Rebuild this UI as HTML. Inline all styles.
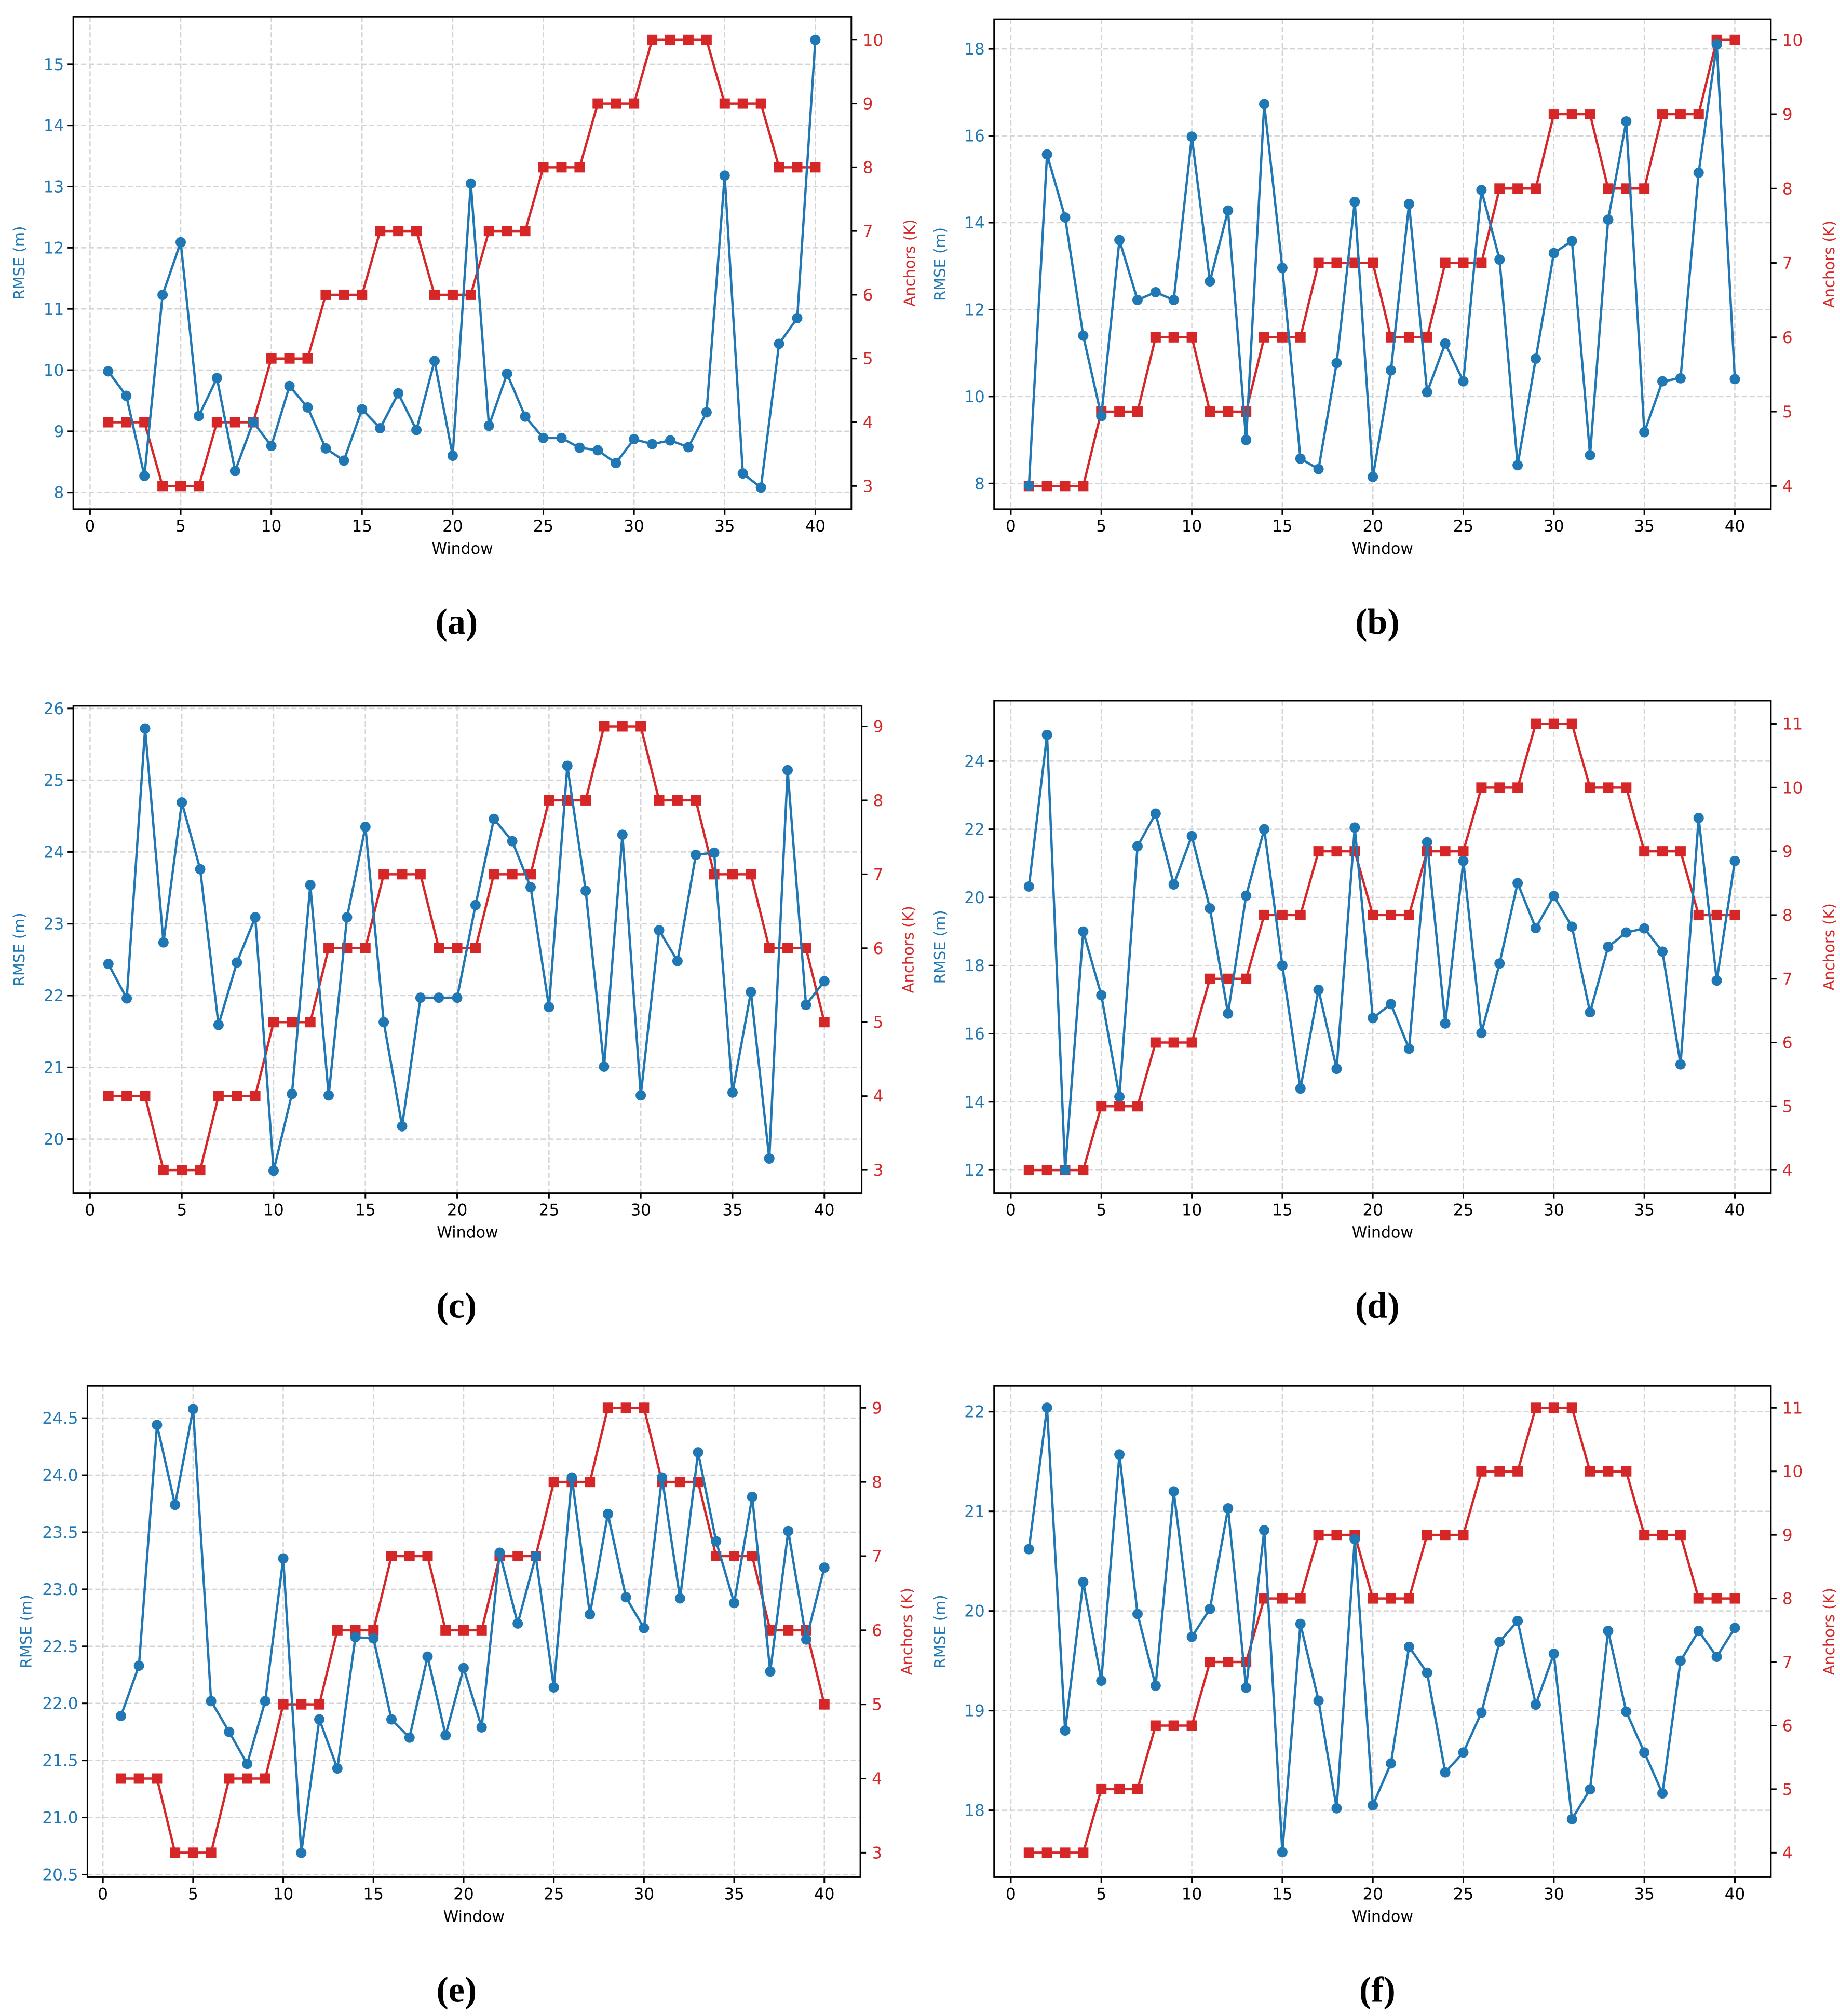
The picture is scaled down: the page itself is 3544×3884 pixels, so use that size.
<!DOCTYPE html>
<html><head><meta charset="utf-8"><style>
html,body{margin:0;padding:0;background:#fff}
svg{display:block}
text{font-family:"DejaVu Sans","Liberation Sans",sans-serif}
</style></head><body>
<svg id="fig" xmlns="http://www.w3.org/2000/svg" width="3544" height="3884" viewBox="0 0 3544 3884"></svg>
<script>
const windows = Array.from({length:40},(_,i)=>i+1);
const rmseA = [9.98,9.58,8.27,11.23,12.09,9.25,9.87,8.35,9.15,8.76,9.74,9.39,8.72,8.52,9.36,9.05,9.62,9.02,10.15,8.6,13.05,9.09,9.94,9.24,8.89,8.89,8.73,8.69,8.48,8.87,8.79,8.85,8.74,9.31,13.18,8.31,8.08,10.43,10.85,15.4];
const anchA = [4,4,4,3,3,3,4,4,4,5,5,5,6,6,6,7,7,7,6,6,6,7,7,7,8,8,8,9,9,9,10,10,10,10,9,9,9,8,8,8];
const rmseB = [7.95,15.57,14.12,11.4,9.55,13.6,12.22,12.4,12.22,15.98,12.65,14.28,9.0,16.73,12.96,8.57,8.33,10.77,14.48,8.15,10.6,14.43,10.1,11.22,10.35,14.75,13.15,8.42,10.87,13.3,13.58,8.65,14.07,16.33,9.18,10.35,10.42,15.15,18.1,10.4];
const anchB = [4,4,4,4,5,5,5,6,6,6,5,5,5,6,6,6,7,7,7,7,6,6,6,7,7,7,8,8,8,9,9,9,8,8,8,9,9,9,10,10];
const rmseC = [22.44,21.96,25.72,22.74,24.69,23.76,21.59,22.46,23.09,19.56,20.63,23.54,20.61,23.09,24.35,21.63,20.18,21.97,21.97,21.97,23.26,24.46,24.15,23.51,21.84,25.2,23.46,21.01,24.24,20.61,22.91,22.48,23.96,23.99,20.65,22.05,19.73,25.14,21.87,22.2];
const anchC = [4,4,4,3,3,3,4,4,4,5,5,5,6,6,6,7,7,7,6,6,6,7,7,7,8,8,8,9,9,9,8,8,8,7,7,7,6,6,6,5];
const rmseD = [20.32,24.77,12.0,19.0,17.13,14.15,21.5,22.46,20.38,21.8,19.68,16.59,20.05,22.0,18.0,14.39,17.29,14.97,22.05,16.46,16.87,15.56,21.62,16.3,21.07,16.02,18.06,20.42,19.1,20.04,19.14,16.63,18.55,18.97,19.09,18.41,15.1,22.33,17.56,21.07];
const anchD = [4,4,4,4,5,5,5,6,6,6,7,7,7,8,8,8,9,9,9,8,8,8,9,9,9,10,10,10,11,11,11,10,10,10,9,9,9,8,8,8];
const rmseE = [21.89,22.33,24.44,23.74,24.58,22.02,21.75,21.47,22.02,23.27,20.69,21.86,21.43,22.58,22.57,21.86,21.7,22.41,21.72,22.31,21.79,23.32,22.7,23.29,22.14,23.98,22.78,23.66,22.93,22.66,23.98,22.92,24.2,23.42,22.88,23.81,22.28,23.51,22.56,23.19];
const anchE = [4,4,4,3,3,3,4,4,4,5,5,5,6,6,6,7,7,7,6,6,6,7,7,7,8,8,8,9,9,9,8,8,8,7,7,7,6,6,6,5];
const rmseF = [20.62,22.04,18.8,20.29,19.3,21.57,19.97,19.25,21.2,19.74,20.02,21.03,19.23,20.81,17.58,19.87,19.1,18.02,20.72,18.05,18.47,19.64,19.38,18.38,18.58,18.98,19.69,19.9,19.06,19.57,17.91,18.21,19.8,18.99,18.58,18.17,19.5,19.8,19.54,19.83];
const anchF = [4,4,4,4,5,5,5,6,6,6,7,7,7,8,8,8,9,9,9,8,8,8,9,9,9,10,10,10,11,11,11,10,10,10,9,9,9,8,8,8];
const xTicks = [0,5,10,15,20,25,30,35,40];
const leftTicksA = [8,9,10,11,12,13,14,15];
const rightTicksA = [3,4,5,6,7,8,9,10];
const leftTicksB = [8,10,12,14,16,18];
const rightTicksB = [4,5,6,7,8,9,10];
const leftTicksC = [20,21,22,23,24,25,26];
const rightTicksC = [3,4,5,6,7,8,9];
const leftTicksD = [12,14,16,18,20,22,24];
const rightTicksD = [4,5,6,7,8,9,10,11];
const leftTicksE = [20.5,21.0,21.5,22.0,22.5,23.0,23.5,24.0,24.5];
const rightTicksE = [3,4,5,6,7,8,9];
const leftTicksF = [18,19,20,21,22];
const rightTicksF = [4,5,6,7,8,9,10,11];
const panelLabels = ["(a)","(b)","(c)","(d)","(e)","(f)"];

const S = 2.477;
const NS = "http://www.w3.org/2000/svg";
const svg = document.getElementById('fig');
const BLUE="#1f77b4", RED="#d62728";
function mk(tag, attrs, parent){const e=document.createElementNS(NS,tag);for(const k in attrs)e.setAttribute(k,attrs[k]);(parent||svg).appendChild(e);return e;}

const panels = [
 {id:'a',box:[57,662,13,396],xc:[70,634],lc:[8,383,15,50],rc:[3,378,10,31],rm:rmseA,an:anchA,lt:leftTicksA,rt:rightTicksA,dec:0,lab:[355,484]},
 {id:'b',box:[773,1377,15,396],xc:[786,1349],lc:[8,376,18,38],rc:[4,378,10,31],rm:rmseB,an:anchB,lt:leftTicksB,rt:rightTicksB,dec:0,lab:[1071,484]},
 {id:'c',box:[57,670,549,928],xc:[70,641],lc:[20,886,26,551],rc:[3,910,9,565],rm:rmseC,an:anchC,lt:leftTicksC,rt:rightTicksC,dec:0,lab:[355,1016]},
 {id:'d',box:[773,1377,545,928],xc:[786,1349],lc:[12,910,24,592],rc:[4,910,11,563],rm:rmseD,an:anchD,lt:leftTicksD,rt:rightTicksD,dec:0,lab:[1071,1016]},
 {id:'e',box:[68,669,1078,1460],xc:[80,641],lc:[20.5,1458,24.5,1103],rc:[3,1441,9,1095],rm:rmseE,an:anchE,lt:leftTicksE,rt:rightTicksE,dec:1,lab:[355,1548]},
 {id:'f',box:[773,1377,1078,1460],xc:[786,1349],lc:[18,1408,22,1098],rc:[4,1441,11,1095],rm:rmseF,an:anchF,lt:leftTicksF,rt:rightTicksF,dec:0,lab:[1071,1548]}
];

panels.forEach((p,pi)=>{
 const g = mk('g',{});
 
 
 const L=p.box[0]*S,R=p.box[1]*S,T=p.box[2]*S,B=p.box[3]*S;
 const xs = v => (p.xc[0] + (p.xc[1]-p.xc[0])*v/40)*S;
 const yl = v => (p.lc[1] + (p.lc[3]-p.lc[1])*(v-p.lc[0])/(p.lc[2]-p.lc[0]))*S;
 const yr = v => (p.rc[1] + (p.rc[3]-p.rc[1])*(v-p.rc[0])/(p.rc[2]-p.rc[0]))*S;
 const grid = mk('g',{stroke:'#d3d3d3','stroke-width':2.5,'stroke-dasharray':'10,5'},g);
 
 
 xTicks.forEach(t=>mk('line',{x1:xs(t),x2:xs(t),y1:T,y2:B},grid));
 p.lt.forEach(t=>mk('line',{x1:L,x2:R,y1:yl(t),y2:yl(t)},grid));
 const an = mk('g',{},g);
 
 
 mk('polyline',{points:p.an.map((v,i)=>xs(windows[i])+','+yr(v)).join(' '),fill:'none',stroke:RED,'stroke-width':4.5},an);
 p.an.forEach((v,i)=>{const r=mk('rect',{x:xs(windows[i])-10,y:yr(v)-10,width:20,height:20,fill:RED},an);
  
  });
 const rm = mk('g',{},g);
 
 
 mk('polyline',{points:p.rm.map((v,i)=>xs(windows[i])+','+yl(v)).join(' '),fill:'none',stroke:BLUE,'stroke-width':4.5},rm);
 p.rm.forEach((v,i)=>{const c=mk('circle',{cx:xs(windows[i]),cy:yl(v),r:10,fill:BLUE},rm);
  
  });
 const fr=mk('rect',{x:L,y:T,width:R-L,height:B-T,fill:'none',stroke:'#000','stroke-width':3},g);
 
 
 const xa=mk('g',{},g);
 
 
 xTicks.forEach(t=>{mk('line',{x1:xs(t),x2:xs(t),y1:B,y2:B+11,stroke:'#000','stroke-width':3},xa);
  const tx=mk('text',{x:xs(t),y:B+43,'text-anchor':'middle','font-size':31,fill:'#000'},xa);tx.textContent=t;});
 const xt=mk('text',{x:(L+R)/2,y:B+86,'text-anchor':'middle','font-size':30,fill:'#000'},g);
 xt.textContent='Window';
 
 
 const la=mk('g',{},g);
 
 
 p.lt.forEach(t=>{mk('line',{x1:L-11,x2:L,y1:yl(t),y2:yl(t),stroke:'#000','stroke-width':3},la);
  const tx=mk('text',{x:L-18,y:yl(t)+11,'text-anchor':'end','font-size':31,fill:BLUE},la);tx.textContent=t.toFixed(p.dec);});
 const lyx=L-(p.id==='e'?108:94), lyy=(T+B)/2;
 const lt=mk('text',{x:lyx,y:lyy,'text-anchor':'middle','font-size':29,fill:BLUE,transform:`rotate(-90 ${lyx} ${lyy})`},g);
 lt.textContent='RMSE (m)';
 
 
 const ra=mk('g',{},g);
 
 
 p.rt.forEach(t=>{mk('line',{x1:R,x2:R+11,y1:yr(t),y2:yr(t),stroke:'#000','stroke-width':3},ra);
  const tx=mk('text',{x:R+22,y:yr(t)+11,'text-anchor':'start','font-size':31,fill:RED},ra);tx.textContent=t;});
 const ryx=R+(p.rt[p.rt.length-1]>=10?122:100), ryy=(T+B)/2;
 const rt=mk('text',{x:ryx,y:ryy,'text-anchor':'middle','font-size':29,fill:RED,transform:`rotate(-90 ${ryx} ${ryy})`},g);
 rt.textContent='Anchors (K)';
 
 
 const pl=mk('text',{x:p.lab[0]*S,y:p.lab[1]*S+22,'text-anchor':'middle',fill:'#000',style:'font-family:"Liberation Serif",serif;font-weight:bold;font-size:70px'},g);
 pl.textContent=panelLabels[pi];
 
 
});
</script>
</body></html>
